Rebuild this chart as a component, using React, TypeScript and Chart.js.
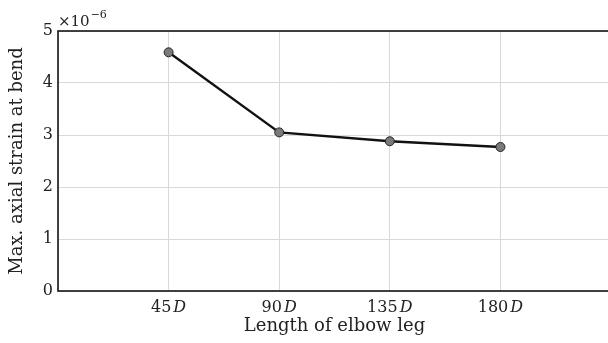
import React, { useEffect, useRef } from 'react';
import { Chart, registerables } from 'chart.js';

Chart.register(...registerables);

// Elbow leg lengths (in pipe diameters D) and the peak axial strain at the bend (×10^-6)
const legLengths = [45, 90, 135, 180];
const legLabels = ['45', '90', '135', '180'];
const maxAxialStrain = [4.59, 3.05, 2.88, 2.77];
const strainRange = [0, 5];
const legRange = [0, 225];

const SERIF = '"DejaVu Serif", "Liberation Serif", serif';
const INK = '#222';

// Closed frame around the plotting area, drawn over the grid and under the line
const framePlugin = {
  id: 'frame',
  beforeDatasetsDraw(chart: any) {
    const { ctx, chartArea } = chart;
    ctx.save();
    ctx.strokeStyle = INK;
    ctx.lineWidth = 1.7;
    ctx.strokeRect(chartArea.left, chartArea.top, chartArea.right - chartArea.left, chartArea.bottom - chartArea.top);
    ctx.restore();
  },
};

// Tick labels of the form "45D" (upright number, italic D) and the ×10^-6 multiplier
const labelPlugin = {
  id: 'mathLabels',
  afterDraw(chart: any) {
    const { ctx, chartArea } = chart;
    const xScale = chart.scales.x;
    ctx.save();
    ctx.fillStyle = INK;
    ctx.textBaseline = 'alphabetic';
    ctx.textAlign = 'left';
    const numFont = `16px ${SERIF}`;
    const dFont = `italic 16px ${SERIF}`;
    const gap = 2;
    legLengths.forEach((v, i) => {
      const cx = xScale.getPixelForValue(v);
      ctx.font = numFont;
      const wNum = ctx.measureText(legLabels[i]).width;
      ctx.font = dFont;
      const wD = ctx.measureText('D').width;
      const start = cx - (wNum + gap + wD) / 2;
      ctx.font = numFont;
      ctx.fillText(legLabels[i], start, chartArea.bottom + 21);
      ctx.font = dFont;
      ctx.fillText('D', start + wNum + gap, chartArea.bottom + 21);
    });

    // multiplier above the y axis
    const mx = chartArea.left;
    const my = chartArea.top - 5;
    ctx.font = `15px ${SERIF}`;
    ctx.fillText('×10', mx, my);
    const w = ctx.measureText('×10').width;
    ctx.font = `11px ${SERIF}`;
    ctx.fillText('−6', mx + w + 1, my - 8);
    ctx.restore();
  },
};

export default function App() {
  const canvasRef = useRef<HTMLCanvasElement | null>(null);

  useEffect(() => {
    if (!canvasRef.current) return;
    const chart = new Chart(canvasRef.current, {
      type: 'line',
      data: {
        datasets: [
          {
            data: legLengths.map((x, i) => ({ x, y: maxAxialStrain[i] })),
            borderColor: '#111',
            borderWidth: 2.4,
            pointRadius: 4.5,
            pointBackgroundColor: '#7a7a7a',
            pointBorderColor: '#222',
            pointBorderWidth: 1,
            tension: 0,
          },
        ],
      },
      options: {
        responsive: false,
        animation: false,
        devicePixelRatio: 1,
        layout: { padding: { top: 31, right: 11, left: 0, bottom: 0 } },
        plugins: {
          legend: { display: false },
          tooltip: { enabled: false },
        },
        scales: {
          x: {
            type: 'linear',
            min: legRange[0],
            max: legRange[1],
            border: { display: false },
            grid: { color: '#d9d9d9', lineWidth: 1, drawTicks: false },
            ticks: { stepSize: 45, display: false },
            title: {
              display: true,
              text: 'Length of elbow leg',
              color: INK,
              font: { family: SERIF, size: 18 },
              padding: { top: 0, bottom: 6 },
            },
            afterFit(scale: any) {
              scale.height = 52;
            },
          },
          y: {
            min: strainRange[0],
            max: strainRange[1],
            border: { display: false },
            grid: { color: '#d9d9d9', lineWidth: 1, drawTicks: false },
            ticks: {
              stepSize: 1,
              color: INK,
              padding: 5,
              font: { family: SERIF, size: 16 },
            },
            title: {
              display: true,
              text: 'Max. axial strain at bend',
              color: INK,
              font: { family: SERIF, size: 18 },
              padding: { top: 7, bottom: 0 },
            },
            afterFit(scale: any) {
              scale.width = 58;
            },
          },
        },
      },
      plugins: [framePlugin, labelPlugin],
    });
    return () => chart.destroy();
  }, []);

  return (
    <div
      style={{
        position: 'fixed',
        left: 0,
        top: 0,
        width: 608,
        height: 343,
        overflow: 'hidden',
        background: '#fff',
      }}
    >
      <canvas ref={canvasRef} width={622} height={343} style={{ display: 'block' }} />
    </div>
  );
}
